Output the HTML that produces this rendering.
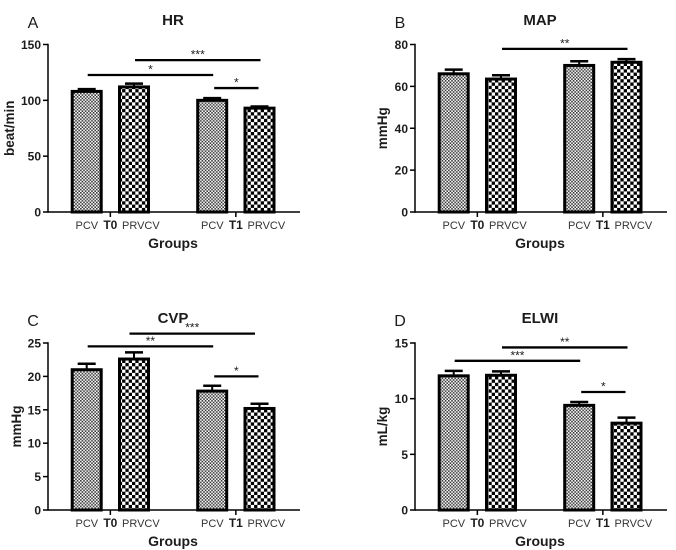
<!DOCTYPE html>
<html>
<head>
<meta charset="utf-8">
<title>Hemodynamic bar charts</title>
<style>
html,body{margin:0;padding:0;background:#fff;width:676px;height:550px;overflow:hidden}
svg{display:block;filter:blur(0.35px)}
text{font-family:"Liberation Sans",sans-serif;fill:#1c1c1c}
</style>
</head>
<body>
<svg id="figure" xmlns="http://www.w3.org/2000/svg" width="676" height="550" viewBox="0 0 676 550">
<defs>
<pattern id="fine" patternUnits="userSpaceOnUse" width="3.2" height="3.2">
<rect width="3.2" height="3.2" fill="#fff"/>
<rect width="1.6" height="1.6" fill="#3a3a3a"/>
<rect x="1.6" y="1.6" width="1.6" height="1.6" fill="#3a3a3a"/>
</pattern>
<pattern id="coarse" patternUnits="userSpaceOnUse" width="6.6" height="6.6">
<rect width="6.6" height="6.6" fill="#fff"/>
<rect width="3.3" height="3.3" fill="#000"/>
<rect x="3.3" y="3.3" width="3.3" height="3.3" fill="#000"/>
</pattern>
</defs>
</svg>
<script>
const groupNames = ['T0', 'T1'];
const seriesNames = ['PCV', 'PRVCV'];

const hrValues = [108, 112, 100, 93];
const hrErrors = [2, 3, 2, 1.5];
const hrTicks = [0, 50, 100, 150];
const hrSigFrom = [0, 1, 2];
const hrSigTo = [2, 3, 3];
const hrSigLevel = [122.7, 136, 111];
const hrSigLabel = ['*', '***', '*'];

const mapValues = [66, 63.5, 70, 71.5];
const mapErrors = [2, 1.8, 2, 1.5];
const mapTicks = [0, 20, 40, 60, 80];
const mapSigFrom = [1];
const mapSigTo = [3];
const mapSigLevel = [77.9];
const mapSigLabel = ['**'];

const cvpValues = [21, 22.6, 17.8, 15.2];
const cvpErrors = [0.9, 1, 0.8, 0.7];
const cvpTicks = [0, 5, 10, 15, 20, 25];
const cvpSigFrom = [0, 1, 2];
const cvpSigTo = [2, 3, 3];
const cvpSigLevel = [24.5, 26.4, 20];
const cvpSigLabel = ['**', '***', '*'];

const elwiValues = [12.05, 12.1, 9.4, 7.8];
const elwiErrors = [0.45, 0.35, 0.3, 0.5];
const elwiTicks = [0, 5, 10, 15];
const elwiSigFrom = [0, 1, 2];
const elwiSigTo = [2, 3, 3];
const elwiSigLevel = [13.4, 14.6, 10.6];
const elwiSigLabel = ['***', '**', '*'];

const svg = document.getElementById('figure');
const NS = 'http://www.w3.org/2000/svg';

function el(parent, tag, attrs, text) {
  const node = document.createElementNS(NS, tag);
  for (const k in attrs) node.setAttribute(k, attrs[k]);
  if (text !== undefined) node.textContent = text;
  parent.appendChild(node);
  return node;
}

function drawPanel(cfg) {
  const g = el(svg, 'g', {});
  
  

  const axisX = cfg.axisX, base = cfg.base, top = cfg.top;
  const maxTick = cfg.ticks[cfg.ticks.length - 1];
  const yScale = v => base - (v / maxTick) * (base - top);
  const xScale = i => axisX + 38.7 + (i % 2) * 47.3 + Math.floor(i / 2) * 125.5;
  const barWidth = 29;

  const letter = el(g, 'text', {x: axisX - 15, y: cfg.titleY + 3, 'font-size': 16, 'text-anchor': 'middle'}, cfg.letter);
  
  

  const title = el(g, 'text', {x: axisX + 125, y: cfg.titleY, 'font-size': 15, 'font-weight': 'bold', 'text-anchor': 'middle'}, cfg.title);
  
  

  const yx = cfg.yTitleX;
  const yTitle = el(g, 'text', {x: yx, y: (base + top) / 2, 'font-size': 13.5, 'font-weight': 'bold', 'text-anchor': 'middle', transform: 'rotate(-90 ' + yx + ' ' + ((base + top) / 2) + ')'}, cfg.yTitle);
  
  

  const xTitle = el(g, 'text', {x: axisX + 125, y: base + 36, 'font-size': 14, 'font-weight': 'bold', 'text-anchor': 'middle'}, 'Groups');
  
  

  cfg.values.forEach((v, i) => {
    const cx = xScale(i);
    const bar = el(g, 'rect', {x: cx - barWidth / 2, y: yScale(v), width: barWidth, height: base - yScale(v), fill: i % 2 ? 'url(#coarse)' : 'url(#fine)', stroke: '#000', 'stroke-width': 3});
    
    

    const upper = yScale(v + cfg.errors[i]);
    const stem = el(g, 'line', {x1: cx, x2: cx, y1: yScale(v), y2: upper, stroke: '#000', 'stroke-width': 2});
    
    
    const cap = el(g, 'line', {x1: cx - 9, x2: cx + 9, y1: upper, y2: upper, stroke: '#000', 'stroke-width': 2.5});
    
    
  });

  const yAxis = el(g, 'line', {x1: axisX, x2: axisX, y1: top - 0.7, y2: base + 0.7, stroke: '#000', 'stroke-width': 1.5});
  
  
  const xAxis = el(g, 'line', {x1: axisX, x2: axisX + 252, y1: base, y2: base, stroke: '#000', 'stroke-width': 1.5});
  
  

  cfg.ticks.forEach(t => {
    const y = yScale(t);
    const mark = el(g, 'line', {x1: axisX - 5, x2: axisX, y1: y, y2: y, stroke: '#000', 'stroke-width': 1.5});
    
    
    const label = el(g, 'text', {x: axisX - 7, y: y + 4.5, 'font-size': 12, 'font-weight': 'bold', 'text-anchor': 'end'}, t);
    
    
  });

  groupNames.forEach((name, k) => {
    const tx = (xScale(k * 2) + xScale(k * 2 + 1)) / 2;
    const mark = el(g, 'line', {x1: tx, x2: tx, y1: base, y2: base + 5, stroke: '#000', 'stroke-width': 1.5});
    
    
    const groupLabel = el(g, 'text', {x: tx, y: base + 17, 'font-size': 12, 'font-weight': 'bold', 'text-anchor': 'middle'}, name);
    
    
    const a = el(g, 'text', {x: tx - 23.5, y: base + 17, 'font-size': 11, 'text-anchor': 'middle', style: 'fill:#333'}, seriesNames[0]);
    
    
    const b = el(g, 'text', {x: tx + 30.5, y: base + 17, 'font-size': 11, 'text-anchor': 'middle', style: 'fill:#333'}, seriesNames[1]);
    
    
  });

  const shift = cfg.spanShift || 0;
  cfg.sigLevel.forEach((lvl, i) => {
    const isPairSpan = cfg.sigFrom[i] === 1;
    const x1 = xScale(cfg.sigFrom[i]) + (cfg.sigFrom[i] === 2 ? 2 : 1) + (isPairSpan ? shift : 0);
    const x2 = xScale(cfg.sigTo[i]) + (cfg.sigFrom[i] === 2 ? -1 : 1) + (isPairSpan ? shift : 0);
    const y = yScale(lvl);
    const line = el(g, 'line', {x1: x1, x2: x2, y1: y, y2: y, stroke: '#000', 'stroke-width': 2.3});
    
    
    const star = el(g, 'text', {x: (x1 + x2) / 2, y: y + (isPairSpan && shift ? -2 : -1.5), 'font-size': 12, 'text-anchor': 'middle'}, cfg.sigLabel[i]);
    
    
  });
}

drawPanel({letter: 'A', title: 'HR', yTitle: 'beat/min', axisX: 48, base: 212, top: 44.5, titleY: 25, yTitleX: 14, values: hrValues, errors: hrErrors, ticks: hrTicks, sigFrom: hrSigFrom, sigTo: hrSigTo, sigLevel: hrSigLevel, sigLabel: hrSigLabel});
drawPanel({letter: 'B', title: 'MAP', yTitle: 'mmHg', axisX: 415, base: 212, top: 44.5, titleY: 25, yTitleX: 387, values: mapValues, errors: mapErrors, ticks: mapTicks, sigFrom: mapSigFrom, sigTo: mapSigTo, sigLevel: mapSigLevel, sigLabel: mapSigLabel});
drawPanel({letter: 'C', title: 'CVP', yTitle: 'mmHg', axisX: 48, base: 510, top: 343, titleY: 323, yTitleX: 21, spanShift: -5.5, values: cvpValues, errors: cvpErrors, ticks: cvpTicks, sigFrom: cvpSigFrom, sigTo: cvpSigTo, sigLevel: cvpSigLevel, sigLabel: cvpSigLabel});
drawPanel({letter: 'D', title: 'ELWI', yTitle: 'mL/kg', axisX: 415, base: 510, top: 343, titleY: 323, yTitleX: 387, values: elwiValues, errors: elwiErrors, ticks: elwiTicks, sigFrom: elwiSigFrom, sigTo: elwiSigTo, sigLevel: elwiSigLevel, sigLabel: elwiSigLabel});
</script>
</body>
</html>
